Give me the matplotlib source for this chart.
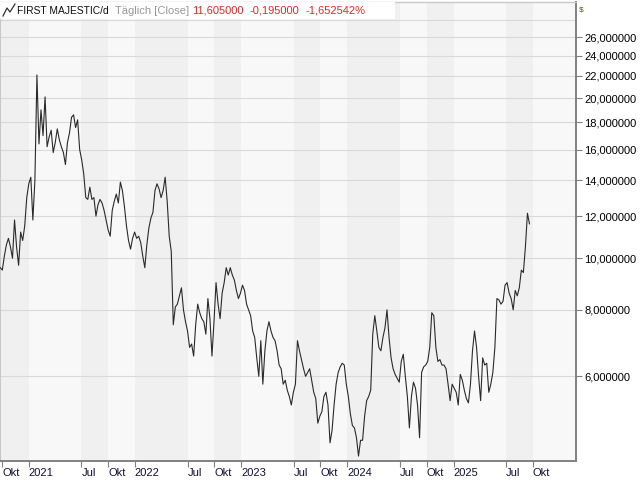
import matplotlib
matplotlib.use('Agg')
import matplotlib.pyplot as plt
import matplotlib.ticker as mticker
from matplotlib.patches import Rectangle
from matplotlib.lines import Line2D
import pandas as pd

# Weekly closing prices (USD)
close = [
    9.6, 9.5, 10.1, 10.6, 10.9, 10.5, 10.0, 11.8, 10.5, 9.7,
    11.2, 10.8, 11.5, 13.0, 13.8, 14.2, 11.8, 14.0, 22.1, 16.4,
    19.0, 17.0, 20.1, 16.2, 16.9, 17.4, 15.8, 16.5, 17.5, 16.7,
    16.2, 15.8, 15.0, 16.5, 17.2, 18.4, 18.6, 17.6, 18.2, 16.0,
    15.3, 14.4, 13.0, 12.9, 13.6, 12.9, 13.0, 12.0, 12.6, 12.9,
    12.7, 12.3, 11.8, 11.3, 11.0, 12.3, 12.8, 13.2, 12.7, 13.9,
    13.4, 12.5, 11.5, 10.8, 10.4, 10.9, 11.2, 10.9, 11.0, 10.7,
    10.1, 9.6, 10.6, 11.4, 11.9, 12.2, 13.4, 13.8, 13.5, 13.0,
    13.4, 14.2, 12.8, 11.0, 10.3, 7.5, 8.1, 8.2, 8.5, 8.8,
    8.0, 7.6, 7.3, 6.8, 6.9, 6.55, 7.5, 8.2, 7.9, 7.7,
    7.6, 7.2, 8.4, 7.7, 6.55, 7.6, 9.0, 8.2, 7.7, 8.6,
    9.0, 9.6, 9.3, 9.6, 9.3, 9.1, 8.7, 8.4, 8.6, 8.9,
    8.7, 8.2, 8.0, 7.8, 7.3, 7.1, 6.5, 6.0, 7.0, 5.8,
    6.7, 7.3, 7.6, 7.3, 7.1, 7.0, 6.7, 6.3, 6.2, 5.8,
    5.9, 5.65, 5.5, 5.3, 5.6, 5.8, 7.0, 6.7, 6.45, 6.2,
    6.0, 6.1, 6.2, 5.9, 5.6, 5.45, 4.9, 5.05, 5.15, 5.5,
    5.6, 5.3, 4.5, 4.75, 5.3, 5.8, 6.1, 6.25, 6.35, 6.3,
    5.8, 5.5, 5.1, 4.85, 4.8, 4.6, 4.25, 4.55, 4.55, 5.05,
    5.4, 5.5, 5.65, 7.2, 7.8, 7.3, 6.8, 6.7, 7.1, 7.4,
    8.0, 7.1, 6.5, 6.2, 6.05, 5.95, 5.85, 6.4, 6.6, 6.0,
    5.5, 4.8, 5.5, 5.85, 5.7, 5.3, 4.6, 6.1, 6.25, 6.3,
    6.4, 6.8, 7.9, 7.8, 6.8, 6.4, 6.45, 6.3, 6.3, 6.2,
    5.8, 5.4, 5.8, 5.7, 5.6, 5.3, 6.05, 5.9, 5.65, 5.45,
    5.35, 5.8, 6.7, 7.3, 6.8, 6.0, 5.4, 6.5, 6.3, 6.35,
    5.6, 5.8, 6.1, 6.8, 8.4, 8.35, 8.2, 8.3, 8.9, 9.0,
    8.6, 8.4, 8.0, 8.7, 8.5, 8.8, 9.5, 9.4, 10.5, 12.15,
    11.605,
]
start_date = '2020-09-25'

xtick_dates = ['2020-10-01', '2021-01-01', '2021-07-01', '2021-10-01',
               '2022-01-01', '2022-07-01', '2022-10-01', '2023-01-01',
               '2023-07-01', '2023-10-01', '2024-01-01', '2024-07-01',
               '2024-10-01', '2025-01-01', '2025-07-01', '2025-10-01']
xtick_labels = ['Okt', '2021', 'Jul', 'Okt', '2022', 'Jul', 'Okt', '2023',
                'Jul', 'Okt', '2024', 'Jul', 'Okt', '2025', 'Jul', 'Okt']
ytick_values = [6, 8, 10, 12, 14, 16, 18, 20, 22, 24, 26]
grid_only_values = [28]
x_range = ['2020-09-24', '2026-02-26']
y_range = [4.16, 30.3]

title_name = 'FIRST MAJESTIC/d'
title_mode = 'Täglich [Close]'
title_last = '11,605000'
title_chg = '-0,195000'
title_pct = '-1,652542%'
currency = '$'

plt.rcParams['font.family'] = ['Liberation Sans', 'DejaVu Sans']

dates = pd.date_range(start_date, periods=len(close), freq='W-FRI')
tick_dt = pd.to_datetime(xtick_dates)

W, H = 640, 480
fig = plt.figure(figsize=(6.4, 4.8), dpi=100)
fig.patch.set_facecolor('white')
ax = fig.add_axes([0, 19 / H, 576 / W, 1 - 21 / H])
ax.set_facecolor('#f8f8f8')

# alternating background bands between label ticks
for i in range(len(tick_dt) - 1):
    if i % 2 == 0:
        ax.axvspan(tick_dt[i], tick_dt[i + 1], color='#f0f0f0', lw=0, zorder=0)

ax.set_yscale('log')
ax.set_xlim(pd.to_datetime(x_range[0]), pd.to_datetime(x_range[1]))
ax.set_ylim(*y_range)

ax.plot(dates, close, color='#2a2a2a', lw=0.8, zorder=3)

ax.yaxis.tick_right()
ax.yaxis.set_major_locator(mticker.FixedLocator(ytick_values))
ax.yaxis.set_major_formatter(mticker.FuncFormatter(lambda v, p: f'{v:.0f},000000'))
ax.yaxis.set_minor_locator(mticker.FixedLocator(grid_only_values))
ax.yaxis.set_minor_formatter(mticker.NullFormatter())
ax.grid(True, axis='y', which='both', color='#d9d9d9', lw=0.8, zorder=1)
ax.tick_params(axis='y', which='major', direction='out', length=4, width=0.8,
               color='#808080', pad=2, labelsize=8, labelcolor='#000000')
ax.tick_params(axis='y', which='minor', length=0)

ax.set_xticks(tick_dt)
ax.set_xticklabels(xtick_labels, ha='left')
ax.tick_params(axis='x', direction='out', length=4, width=0.8, color='#808080',
               pad=1, labelsize=8, labelcolor='#101030')

for s in ['right', 'bottom']:
    ax.spines[s].set_color('#808080')
    ax.spines[s].set_linewidth(1.4)
for s in ['left', 'top']:
    ax.spines[s].set_color('#c8c8c8')
    ax.spines[s].set_linewidth(1.0)

# title box
ax.add_patch(Rectangle((0, 1 - 17 / (H - 21)), 395 / 576, 17 / (H - 21),
                       transform=ax.transAxes, facecolor='white', edgecolor='none',
                       zorder=4, clip_on=False))

def fx(x):
    return x / W

def fy(y):
    return 1 - y / H

icon = Line2D([fx(3), fx(7), fx(10), fx(15)], [fy(16), fy(8), fy(12), fy(4)],
              transform=fig.transFigure, color='#303030', lw=0.9, zorder=10)
fig.add_artist(icon)

ty = fy(10.5)
fig.text(fx(17), ty, title_name, fontsize=7.4, color='#101010', va='center', zorder=10)
fig.text(fx(115), ty, title_mode, fontsize=8, color='#999999', va='center', zorder=10)
fig.text(fx(192), ty, title_last, fontsize=8, color='#e02828', va='center', zorder=10)
fig.text(fx(249), ty, title_chg, fontsize=8, color='#e02828', va='center', zorder=10)
fig.text(fx(305), ty, title_pct, fontsize=8, color='#e02828', va='center', zorder=10)
fig.text(fx(579), fy(10), currency, fontsize=6, color='#6a5020', va='center')

fig.savefig('out.png', dpi=100, facecolor='white')
